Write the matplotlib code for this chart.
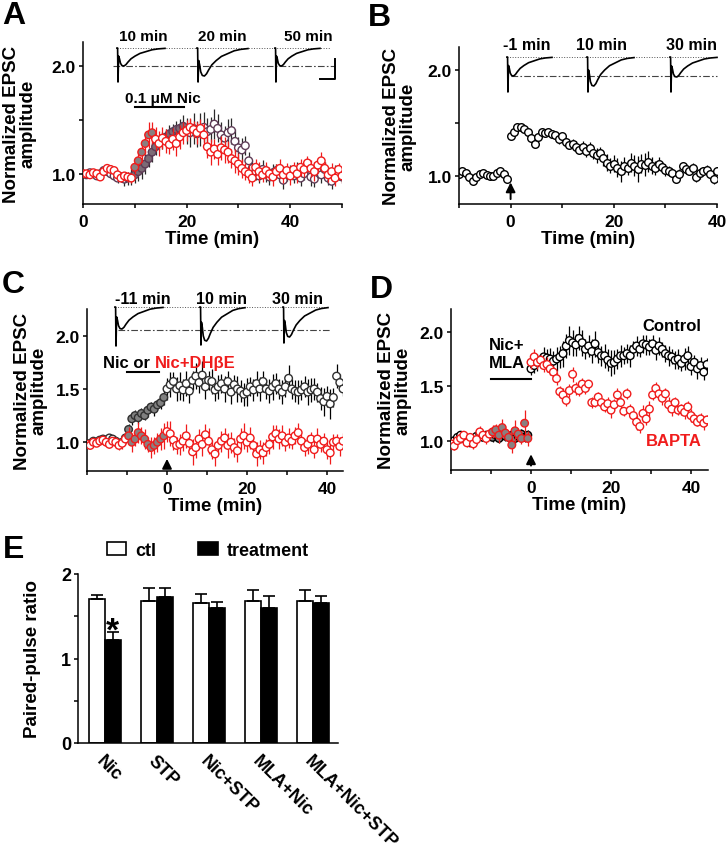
import numpy as np
import matplotlib
matplotlib.use("Agg")
import matplotlib.pyplot as plt

plt.rcParams['font.family'] = ['Liberation Sans', 'DejaVu Sans']
plt.rcParams['font.weight'] = 'bold'
plt.rcParams['axes.labelweight'] = 'bold'

RED = '#f01c1c'
MAUVE = '#5e3c56'

##### data #####
# panel A: time 0..50 min, one point every 40 s
a_red = [1.00, 1.00, 0.99, 1.01, 1.00, 0.97, 1.02, 1.05, 1.04, 1.03, 0.99, 0.96, 0.98, 0.97, 0.96,
         1.06, 1.12, 1.20, 1.28, 1.36, 1.38, 1.32, 1.28, 1.33, 1.30, 1.27, 1.32, 1.28, 1.34, 1.38,
         1.40, 1.43, 1.41, 1.38, 1.42, 1.36, 1.25, 1.20, 1.23, 1.18, 1.24, 1.22, 1.20, 1.14, 1.12,
         1.09, 1.05, 1.02, 1.00, 0.96, 1.06, 1.02, 0.99, 1.03, 1.00, 0.97, 1.02, 1.05, 0.99, 1.03,
         0.98, 1.04, 1.00, 1.06, 1.04, 1.10, 1.05, 1.02, 1.08, 1.12, 1.05, 0.99, 1.02, 0.96, 1.04, 0.98]
a_red_err = [0.02, 0.02, 0.02, 0.03, 0.02, 0.03, 0.03, 0.04, 0.03, 0.03, 0.04, 0.04, 0.04, 0.05, 0.05,
             0.06, 0.07, 0.09, 0.10, 0.12, 0.10, 0.11, 0.12, 0.10, 0.11, 0.09, 0.10, 0.12, 0.11, 0.10,
             0.10, 0.09, 0.08, 0.10, 0.09, 0.11, 0.10, 0.12, 0.09, 0.10, 0.11, 0.12, 0.10, 0.09, 0.11,
             0.10, 0.09, 0.08, 0.09, 0.07, 0.08, 0.09, 0.07, 0.08, 0.06, 0.08, 0.07, 0.09, 0.08, 0.07,
             0.08, 0.07, 0.09, 0.08, 0.07, 0.06, 0.08, 0.09, 0.07, 0.08, 0.06, 0.07, 0.08, 0.07, 0.06, 0.07]
a_pur = [1.00, 0.99, 1.01, 1.00, 0.98, 1.00, 1.03, 1.02, 1.00, 0.98, 0.96, 0.97, 0.95, 0.96, 0.97,
         0.99, 1.02, 1.05, 1.09, 1.14, 1.20, 1.25, 1.29, 1.31, 1.34, 1.37, 1.39, 1.41, 1.42, 1.44,
         1.40, 1.38, 1.42, 1.37, 1.41, 1.43, 1.39, 1.41, 1.46, 1.42, 1.36, 1.33, 1.38, 1.40, 1.30,
         1.24, 1.22, 1.26, 1.12, 1.05, 1.02, 0.98, 1.04, 1.00, 0.97, 1.01, 1.03, 0.99, 0.94, 1.00,
         1.02, 0.98, 1.03, 0.96, 1.00, 1.05, 0.97, 0.95, 1.02, 0.99, 1.04, 0.96, 0.93, 1.00, 1.01, 0.97]
a_pur_err = [0.02, 0.02, 0.03, 0.02, 0.03, 0.03, 0.03, 0.02, 0.03, 0.04, 0.05, 0.05, 0.06, 0.06, 0.07,
             0.08, 0.09, 0.10, 0.09, 0.08, 0.09, 0.08, 0.07, 0.08, 0.07, 0.08, 0.07, 0.08, 0.09, 0.10,
             0.12, 0.13, 0.14, 0.12, 0.15, 0.14, 0.13, 0.12, 0.14, 0.13, 0.12, 0.11, 0.13, 0.12, 0.11,
             0.10, 0.11, 0.09, 0.08, 0.07, 0.08, 0.07, 0.09, 0.08, 0.07, 0.08, 0.06, 0.07, 0.08, 0.07,
             0.06, 0.07, 0.08, 0.07, 0.06, 0.07, 0.08, 0.07, 0.06, 0.08, 0.07, 0.06, 0.07, 0.08, 0.07, 0.06]

# panel B: -10..-0.7 min then 0..40 min
b_pre = [1.02, 1.05, 1.03, 0.99, 0.96, 0.99, 1.02, 1.03, 1.01, 1.00, 1.00, 1.03, 1.05, 1.02, 0.98]
b_pre_err = [0.02, 0.01, 0.02, 0.02, 0.01, 0.02, 0.02, 0.01, 0.02, 0.02, 0.01, 0.02, 0.02, 0.01, 0.02]
b_post = [1.38, 1.42, 1.47, 1.47, 1.45, 1.42, 1.36, 1.31, 1.37, 1.42, 1.41, 1.42,
          1.40, 1.39, 1.35, 1.38, 1.32, 1.30, 1.31, 1.28, 1.25, 1.28, 1.24, 1.27,
          1.22, 1.20, 1.22, 1.17, 1.13, 1.10, 1.12, 1.08, 1.05, 1.10, 1.08, 1.13,
          1.10, 1.07, 1.12, 1.11, 1.14, 1.10, 1.08, 1.12, 1.09, 1.06, 1.05, 1.03,
          0.98, 1.02, 1.10, 1.07, 1.05, 1.08, 0.99, 1.03, 1.05, 1.06, 1.02, 0.98, 1.05]
b_post_err = [0.02, 0.03, 0.02, 0.02, 0.03, 0.02, 0.03, 0.02, 0.03, 0.02, 0.03, 0.03,
              0.04, 0.03, 0.04, 0.03, 0.04, 0.04, 0.04, 0.05, 0.04, 0.05, 0.06, 0.05,
              0.06, 0.07, 0.06, 0.07, 0.08, 0.07, 0.08, 0.09, 0.10, 0.08, 0.07, 0.09,
              0.10, 0.12, 0.09, 0.11, 0.10, 0.08, 0.07, 0.06, 0.05, 0.06, 0.05, 0.04,
              0.04, 0.05, 0.04, 0.05, 0.04, 0.05, 0.04, 0.05, 0.04, 0.05, 0.04, 0.05, 0.04]

# panel C: -20..44 min, every 48 s  (Nic / Nic+DHbE)
c_blk = [0.98, 0.99, 1.01, 1.00, 1.02, 1.03, 1.02, 1.04, 1.03, 1.01, 0.99, 1.00, 1.04,
         1.12, 1.22, 1.25, 1.23, 1.27, 1.25, 1.30, 1.33, 1.31, 1.35, 1.37, 1.42,
         1.50, 1.54, 1.57, 1.50, 1.53, 1.49, 1.55, 1.48, 1.58, 1.62,
         1.56, 1.63, 1.52, 1.58, 1.57, 1.49, 1.52, 1.55, 1.50, 1.57,
         1.47, 1.54, 1.50, 1.48, 1.45, 1.47, 1.52, 1.49, 1.55, 1.50,
         1.57, 1.50, 1.48, 1.52, 1.55, 1.50, 1.47, 1.52, 1.60, 1.50,
         1.48, 1.47, 1.49, 1.52, 1.47, 1.49, 1.50, 1.47, 1.41, 1.38,
         1.43, 1.36, 1.42, 1.62, 1.56, 1.50]
c_blk_err = [0.02, 0.02, 0.03, 0.02, 0.02, 0.03, 0.02, 0.03, 0.02, 0.02, 0.03, 0.02, 0.03,
             0.05, 0.06, 0.05, 0.06, 0.05, 0.04, 0.06, 0.05, 0.06, 0.05, 0.06, 0.07,
             0.10, 0.12, 0.09, 0.11, 0.13, 0.10, 0.12, 0.11, 0.09, 0.12,
             0.10, 0.13, 0.11, 0.09, 0.12, 0.10, 0.11, 0.09, 0.12, 0.10,
             0.11, 0.09, 0.12, 0.10, 0.11, 0.13, 0.09, 0.10, 0.12, 0.11,
             0.10, 0.09, 0.11, 0.12, 0.10, 0.09, 0.11, 0.10, 0.12, 0.09,
             0.10, 0.11, 0.09, 0.10, 0.12, 0.11, 0.10, 0.09, 0.11, 0.13,
             0.10, 0.14, 0.09, 0.11, 0.08, 0.07]
c_red = [0.98, 0.97, 1.00, 0.99, 1.01, 1.02, 1.00, 0.98, 1.01, 1.00, 0.97, 0.99, 1.03,
         1.06, 1.00, 1.03, 1.09, 1.06, 1.03, 0.98, 0.95, 0.97, 1.00, 1.03, 1.06,
         1.10, 1.08, 1.02, 0.97, 0.98, 1.01, 1.06, 0.99, 0.91, 0.95,
         1.03, 0.98, 1.07, 1.01, 0.93, 0.89, 0.97, 1.01, 1.04, 0.97,
         1.00, 0.95, 0.92, 1.03, 1.06, 1.00, 1.04, 0.97, 0.89, 0.93,
         0.90, 0.95, 0.98, 1.05, 1.08, 1.03, 1.06, 1.00, 1.04, 1.01,
         1.06, 1.09, 1.01, 0.95, 0.98, 1.03, 0.93, 1.03, 0.98, 1.01,
         0.93, 0.90, 1.00, 1.01, 0.96, 1.01]
c_red_err = [0.03, 0.03, 0.04, 0.03, 0.04, 0.03, 0.04, 0.03, 0.04, 0.05, 0.04, 0.05, 0.06,
             0.08, 0.09, 0.07, 0.10, 0.08, 0.09, 0.07, 0.10, 0.08, 0.09, 0.10, 0.12,
             0.10, 0.12, 0.09, 0.08, 0.10, 0.09, 0.11, 0.08, 0.12, 0.10,
             0.09, 0.11, 0.10, 0.12, 0.09, 0.11, 0.08, 0.10, 0.09, 0.12,
             0.10, 0.09, 0.11, 0.10, 0.12, 0.09, 0.10, 0.08, 0.11, 0.09,
             0.10, 0.08, 0.09, 0.11, 0.08, 0.09, 0.10, 0.08, 0.09, 0.07,
             0.08, 0.09, 0.07, 0.08, 0.09, 0.07, 0.08, 0.10, 0.07, 0.08,
             0.09, 0.10, 0.08, 0.07, 0.09, 0.08]

# panel D: -20..44 min (Control / BAPTA)
d_blk = [0.98, 1.00, 1.03, 1.05, 1.02, 1.00, 0.98, 1.02, 1.04, 1.06, 1.03, 1.05, 1.04,
         1.03, 1.05, 1.02, 1.06, 1.04, 1.03, 1.05, 1.02, 1.04, 1.06, 1.03, 1.05,
         1.66, 1.69, 1.72, 1.74, 1.77, 1.76, 1.75, 1.73, 1.75, 1.77,
         1.80, 1.87, 1.92, 1.90, 1.88, 1.94, 1.90, 1.84, 1.87, 1.82,
         1.89, 1.81, 1.78, 1.78, 1.74, 1.71, 1.72, 1.75, 1.78, 1.78,
         1.80, 1.78, 1.84, 1.87, 1.84, 1.89, 1.88, 1.86, 1.89, 1.83,
         1.87, 1.84, 1.80, 1.78, 1.77, 1.74, 1.75, 1.71, 1.75, 1.78,
         1.68, 1.72, 1.66, 1.69, 1.63, 1.70]
d_blk_err = [0.02, 0.03, 0.02, 0.03, 0.02, 0.03, 0.02, 0.03, 0.02, 0.03, 0.02, 0.03, 0.03,
             0.04, 0.05, 0.04, 0.05, 0.04, 0.05, 0.04, 0.05, 0.04, 0.05, 0.04, 0.05,
             0.06, 0.07, 0.08, 0.07, 0.09, 0.08, 0.10, 0.09, 0.11, 0.10,
             0.12, 0.11, 0.13, 0.12, 0.10, 0.11, 0.12, 0.09, 0.10, 0.11,
             0.12, 0.10, 0.09, 0.11, 0.10, 0.12, 0.11, 0.09, 0.10, 0.08,
             0.09, 0.10, 0.08, 0.09, 0.07, 0.08, 0.09, 0.07, 0.08, 0.09,
             0.08, 0.07, 0.08, 0.09, 0.07, 0.08, 0.09, 0.07, 0.10, 0.09,
             0.08, 0.07, 0.09, 0.08, 0.07, 0.06]
d_red = [0.97, 0.95, 1.00, 1.02, 1.05, 0.98, 1.03, 0.97, 1.01, 1.08, 1.05, 1.02, 1.06,
         1.08, 1.10, 1.05, 1.12, 1.07, 1.03, 0.96, 1.09, 1.06, 1.02, 1.16, 1.02,
         1.72, 1.77, 1.72, 1.74, 1.69, 1.70, 1.66, 1.63, 1.57, 1.45,
         1.42, 1.37, 1.46, 1.61, 1.48, 1.46, 1.52, 1.48, 1.52, 1.35,
         1.35, 1.40, 1.35, 1.31, 1.34, 1.28, 1.33, 1.42, 1.35, 1.27,
         1.43, 1.28, 1.23, 1.17, 1.13, 1.25, 1.20, 1.29, 1.42, 1.48,
         1.43, 1.39, 1.43, 1.33, 1.29, 1.35, 1.28, 1.29, 1.26, 1.31,
         1.23, 1.20, 1.17, 1.20, 1.16, 1.19]
d_red_err = [0.03, 0.04, 0.03, 0.04, 0.03, 0.04, 0.03, 0.05, 0.04, 0.05, 0.04, 0.05, 0.04,
             0.06, 0.05, 0.07, 0.08, 0.06, 0.05, 0.07, 0.10, 0.06, 0.05, 0.12, 0.07,
             0.06, 0.07, 0.06, 0.05, 0.06, 0.07, 0.06, 0.05, 0.06, 0.05,
             0.06, 0.05, 0.06, 0.07, 0.06, 0.05, 0.06, 0.05, 0.04, 0.05,
             0.04, 0.05, 0.04, 0.05, 0.06, 0.07, 0.05, 0.06, 0.05, 0.04,
             0.05, 0.06, 0.05, 0.07, 0.06, 0.08, 0.06, 0.07, 0.05, 0.06,
             0.05, 0.06, 0.05, 0.07, 0.06, 0.05, 0.04, 0.05, 0.06, 0.05,
             0.06, 0.05, 0.04, 0.05, 0.06, 0.05]

# panel E: paired-pulse ratio
groups = ['Nic', 'STP', 'Nic+STP', 'MLA+Nic', 'MLA+Nic+STP']
ctl = [1.70, 1.68, 1.66, 1.68, 1.68]
ctl_err = [0.05, 0.16, 0.10, 0.13, 0.13]
trt = [1.22, 1.73, 1.60, 1.60, 1.66]
trt_err = [0.09, 0.11, 0.07, 0.14, 0.08]

# EPSC sample trace shape (time in px of the inset, amplitude relative to peak)
trace_t = np.array([0, 0.6, 1.0, 1.6, 2.5, 3.5, 5, 7, 9, 11, 14, 18, 23, 29, 35, 41, 48])
trace_shape = np.array([0, 0, 0, 0.45, 0.6, 0.85, 0.98, 1.0, 0.92, 0.78, 0.6, 0.45, 0.3, 0.2, 0.1, 0.05, 0.02])

##### figure #####
W, H = 728, 853
fig = plt.figure(figsize=(W / 100, H / 100), dpi=100)


def box(l, t, r, b):
    return [l / W, 1 - b / H, (r - l) / W, (b - t) / H]


def bold_ticks(ax):
    for lab in ax.get_xticklabels() + ax.get_yticklabels():
        lab.set_fontweight('bold')


def setup(ax, xlim, ylim, xticks, xlabels, yticks, ylabels, ylabpad):
    ax.spines['top'].set_visible(False)
    ax.spines['right'].set_visible(False)
    for s in ['left', 'bottom']:
        ax.spines[s].set_linewidth(1.1)
    ax.set_xlim(xlim)
    ax.set_ylim(ylim)
    ax.set_xticks(xticks)
    ax.set_xticklabels(xlabels)
    ax.set_yticks(yticks)
    ax.set_yticklabels(ylabels)
    ax.tick_params(direction='out', length=3, width=1.1, labelsize=12.5)
    ax.tick_params(axis='y', pad=2)
    ax.tick_params(axis='x', pad=4)
    bold_ticks(ax)
    ax.set_xlabel('Time (min)', fontsize=13.5, labelpad=1)
    ax.set_ylabel('Normalized EPSC\namplitude', fontsize=13.5, linespacing=0.95, labelpad=ylabpad)


def series(ax, t, v, err, edge, ecol, fill, z):
    ax.errorbar(t, v, yerr=err, fmt='none', ecolor=ecol, elinewidth=0.9, capsize=0, zorder=z)
    ax.scatter(t, v, s=30, facecolors=fill, edgecolors=edge, linewidths=1.0, zorder=z + 0.1)


def fills(t, lo, hi, color):
    return np.where((t >= lo) & (t < hi), color, 'white')


# overlay in pixel coordinates for traces and labels
ov = fig.add_axes([0, 0, 1, 1], zorder=10)
ov.set_xlim(0, W)
ov.set_ylim(H, 0)
ov.axis('off')


def trace(x0, base, amp, art, width):
    xs = x0 + trace_t * width / 48
    ys = base + amp * trace_shape
    ys[2] = base + art
    ov.plot(xs, ys, color='k', lw=1.2)


def guides(x1, x2, y1, x3, x4, y2):
    ov.plot([x1, x2], [y1, y1], ls=':', lw=0.7, color='#555555')
    ov.plot([x3, x4], [y2, y2], color='#444444', lw=0.8, dashes=(6, 2, 1.5, 2))


def arrow(ax, tip, base):
    ax.annotate('', xy=(0, tip), xytext=(0, base),
                arrowprops=dict(arrowstyle='-|>', color='k', lw=1.4, mutation_scale=14))


######## A ########
axA = fig.add_axes(box(83, 43, 342, 205))
setup(axA, (0, 50), (0.72, 2.22), range(0, 51, 10), ['0', '', '20', '', '40', ''],
      [1.0, 1.5, 2.0], ['1.0', '', '2.0'], 11)
tA = np.arange(len(a_red)) * 2 / 3
series(axA, tA, a_pur, a_pur_err, MAUVE, '#2a2a2a', fills(tA, 10, 20, '#7c6b76'), 2)
series(axA, tA, a_red, a_red_err, RED, RED, fills(tA, 10, 14, '#8a7f80'), 3)
axA.plot([10, 19.5], [1.62, 1.62], color='k', lw=1.5)

guides(117, 330, 49, 113, 335, 67)
trace(117, 49, 18, 34, 48)
trace(197, 49, 28, 34, 51)
trace(275, 49, 18, 34, 45)
ov.plot([320, 335, 335], [80, 80, 60], color='k', lw=1.4)
for x, s in [(143, '10 min'), (222, '20 min'), (308, '50 min')]:
    ov.text(x, 37, s, ha='center', va='center', fontsize=11)
ov.text(163, 99, '0.1 μM Nic', ha='center', va='center', fontsize=11)

######## B ########
axB = fig.add_axes(box(459, 48, 717, 205))
setup(axB, (-10, 40), (0.74, 2.22), range(-10, 41, 10), ['', '0', '', '20', '', '40'],
      [1.0, 1.5, 2.0], ['1.0', '', '2.0'], 8)
tBpre = -10 + np.arange(len(b_pre)) * 2 / 3
tBpost = np.arange(len(b_post)) * 2 / 3
series(axB, tBpre, b_pre, b_pre_err, 'k', 'k', 'white', 2)
series(axB, tBpost, b_post, b_post_err, 'k', 'k', 'white', 2)
arrow(axB, 0.97, 0.76)

guides(507, 717, 58, 511, 717, 77)
trace(507, 58, 19, 35, 45)
trace(587, 58, 29, 35, 47)
trace(670, 58, 20, 35, 47)
for x, s in [(527, '-1 min'), (601, '10 min'), (691, '30 min')]:
    ov.text(x, 45, s, ha='center', va='center', fontsize=11.5)

######## C ########
axC = fig.add_axes(box(87, 310, 343, 472))
setup(axC, (-20, 44), (0.73, 2.25), range(-20, 41, 10), ['', '', '0', '', '20', '', '40'],
      [1.0, 1.5, 2.0], ['1.0', '1.5', '2.0'], 6)
tC = -20 + np.arange(len(c_blk)) * 0.8
series(axC, tC, c_blk, c_blk_err, '#303030', 'k', fills(tC, -10, -0.1, '#808080'), 2)
series(axC, tC, c_red, c_red_err, RED, RED, fills(tC, -10, -0.1, '#8a8080'), 3)
axC.plot([-10, -2], [1.66, 1.66], color='k', lw=1.5)
arrow(axC, 0.87, 0.745)

guides(115, 328, 308, 118, 330, 331)
trace(115, 308, 22, 39, 48)
trace(200, 308, 34, 38, 45)
trace(283, 308, 30, 36, 45)
for x, s in [(143, '-11 min'), (222, '10 min'), (298, '30 min')]:
    ov.text(x, 299, s, ha='center', va='center', fontsize=11.5)
ov.text(103, 363, 'Nic or ', ha='left', va='center', fontsize=12)
ov.text(155, 363, 'Nic+DHβE', ha='left', va='center', fontsize=12, color=RED)

######## D ########
axD = fig.add_axes(box(451, 310, 708, 471))
setup(axD, (-20, 44.25), (0.73, 2.21), range(-20, 41, 10), ['', '', '0', '', '20', '', '40'],
      [1.0, 1.5, 2.0], ['1.0', '1.5', '2.0'], 6)
tD = -20 + np.arange(len(d_blk)) * 0.8
series(axD, tD, d_blk, d_blk_err, 'k', 'k', fills(tD, -10, -0.1, '#808080'), 2)
series(axD, tD, d_red, d_red_err, RED, RED, fills(tD, -10, -0.1, '#8a8080'), 3)
axD.plot([-10, 0], [1.57, 1.57], color='k', lw=1.5)
arrow(axD, 0.9, 0.745)
ov.text(489, 345, 'Nic+', ha='left', va='center', fontsize=12)
ov.text(489, 363, 'MLA', ha='left', va='center', fontsize=12)
ov.text(642, 326, 'Control', ha='left', va='center', fontsize=12)
ov.text(646, 442, 'BAPTA', ha='left', va='center', fontsize=12, color=RED)

######## E ########
axE = fig.add_axes(box(78, 575, 338, 744))
x = np.arange(len(groups))
bw = 0.3
b1 = axE.bar(x - bw / 2, ctl, bw, color='white', edgecolor='k', linewidth=1.2,
             yerr=[np.zeros(len(ctl)), ctl_err], error_kw=dict(ecolor='k', elinewidth=1.2, capsize=4, capthick=1.2))
b2 = axE.bar(x + bw / 2, trt, bw, color='k', edgecolor='k', linewidth=1.2,
             yerr=[np.zeros(len(trt)), trt_err], error_kw=dict(ecolor='k', elinewidth=1.2, capsize=4, capthick=1.2))
axE.text(bw / 2, 1.22, '*', ha='center', va='baseline', fontsize=24)
axE.spines['top'].set_visible(False)
axE.spines['right'].set_visible(False)
for s in ['left', 'bottom']:
    axE.spines[s].set_linewidth(1.1)
axE.set_xlim(-0.52, 4.48)
axE.set_ylim(0, 2.0)
axE.set_yticks([0, 0.5, 1, 1.5, 2])
axE.set_yticklabels(['0', '', '1', '', '2'])
axE.tick_params(axis='y', direction='out', length=3, width=1.1, labelsize=13, pad=2)
axE.set_xticks(x)
axE.set_xticklabels(groups, rotation=-45, ha='left', va='top', rotation_mode='anchor', fontsize=13)
axE.tick_params(axis='x', length=0, pad=6)
bold_ticks(axE)
axE.set_ylabel('Paired-pulse ratio', fontsize=13.5, labelpad=14)
axE.legend([b1, b2], ['ctl', 'treatment'], ncol=2, frameon=False, loc='center left',
           bbox_to_anchor=(0.11, 1.142), handlelength=1.1, handleheight=0.75,
           handletextpad=0.5, columnspacing=2.3, borderpad=0, borderaxespad=0,
           prop={'size': 13, 'weight': 'bold'})

# panel letters
for xl, yl, s in [(2, 24, 'A'), (368, 26, 'B'), (2, 293, 'C'), (370, 298, 'D'), (3, 558, 'E')]:
    ov.text(xl, yl, s, ha='left', va='baseline', fontsize=23)

fig.savefig('out.png', dpi=100)
